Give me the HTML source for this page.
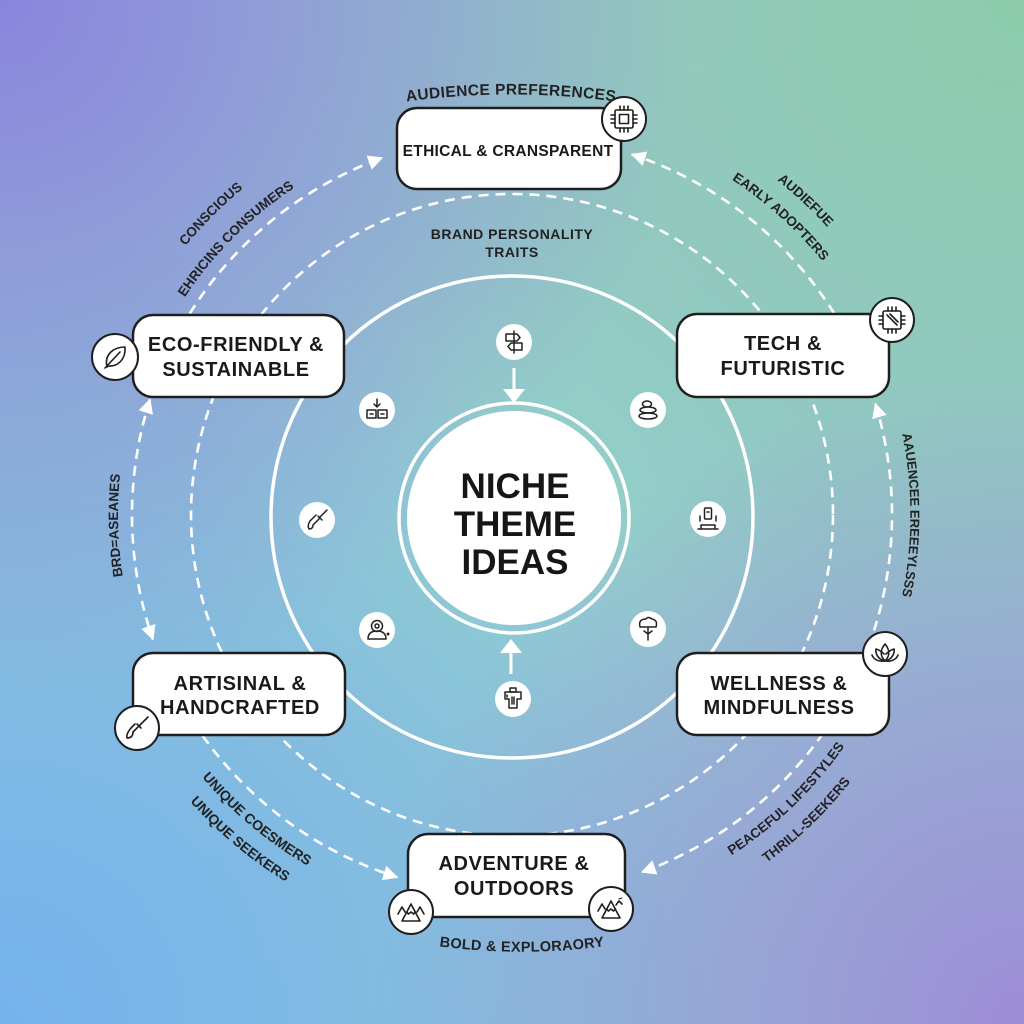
<!DOCTYPE html>
<html><head><meta charset="utf-8"><style>
html,body{margin:0;padding:0;}
body{width:1024px;height:1024px;overflow:hidden;position:relative;
background:
 radial-gradient(circle at 0% 0%, rgba(138,132,222,1) 0%, rgba(138,132,222,0) 48%),
 radial-gradient(circle at 100% 100%, rgba(158,140,214,1) 0%, rgba(158,140,214,0) 45%),
 radial-gradient(circle at 100% 0%, rgba(140,204,172,1) 0%, rgba(140,204,172,0) 52%),
 radial-gradient(circle at 0% 100%, rgba(118,178,238,1) 0%, rgba(118,178,238,0) 55%),
 radial-gradient(circle at 50% 50%, rgba(148,210,204,1) 0%, rgba(148,210,204,0) 45%),
 linear-gradient(180deg,#98c6cc 0%,#8ec6d4 100%);
font-family:"Liberation Sans",Arial,sans-serif;}
svg{position:absolute;left:0;top:0;}
</style></head><body>
<svg width="1024" height="1024" viewBox="0 0 1024 1024" xmlns="http://www.w3.org/2000/svg">
<defs>
 <marker id="ah" viewBox="0 0 12 12" refX="11" refY="6" markerWidth="15" markerHeight="15" markerUnits="userSpaceOnUse" orient="auto-start-reverse">
  <path d="M0,0 L12,6 L0,12 Z" fill="#fff"/>
 </marker>
 <path id="pAud" d="M260,136 A780,780 0 0 1 762,136"/>
 <path id="pBold" d="M282,905 A640,640 0 0 0 762,905"/>
 <path id="pCons" d="M103.4,405.5 A423,423 0 0 1 402.5,106.4"/>
 <path id="pEhr" d="M132.4,413.3 A393,393 0 0 1 410.3,135.4"/>
 <path id="pAudi" d="M608.1,98.9 A427,427 0 0 1 920.3,390.2"/>
 <path id="pEarly" d="M595.4,122.8 A401,401 0 0 1 893.4,391.1"/>
 <path id="pBrd" d="M176.1,720.9 A394,394 0 0 1 165.7,327"/>
 <path id="pAue" d="M858.1,317.5 A399,399 0 0 1 858.1,712.5"/>
 <path id="pUc" d="M130.5,653.9 A406,406 0 0 0 441.5,914.8"/>
 <path id="pUs" d="M107,662.4 A431,431 0 0 0 437.2,939.4"/>
 <path id="pPe" d="M610,908 A405,405 0 0 0 901.3,626.6"/>
 <path id="pTh" d="M616.3,933.2 A431,431 0 0 0 926.3,633.8"/>
</defs>

<!-- middle dashed circle -->
<circle cx="512" cy="515" r="321" fill="none" stroke="#fff" stroke-width="2.6" stroke-dasharray="10 7"/>
<!-- solid ring -->
<circle cx="512" cy="517" r="241" fill="none" stroke="#fff" stroke-width="3.5"/>

<!-- outer dashed arcs -->
<g fill="none" stroke="#fff" stroke-width="2.6" stroke-dasharray="10 7">
 <path d="M189.7,313.6 A380,380 0 0 1 382,157.9" marker-end="url(#ah)"/>
 <path d="M834.3,313.6 A380,380 0 0 0 631.9,154.4" marker-end="url(#ah)"/>
 <path d="M874,630.5 A380,380 0 0 0 875.4,403.9" marker-end="url(#ah)"/>
 <path d="M150,399.5 A380,380 0 0 0 152.9,639.3" marker-start="url(#ah)" marker-end="url(#ah)"/>
 <path d="M202.6,735.7 A380,380 0 0 0 397.1,877.2" marker-end="url(#ah)"/>
 <path d="M823.3,733 A380,380 0 0 1 642,872.1" marker-end="url(#ah)"/>
</g>

<!-- center circle -->
<circle cx="514" cy="518" r="115" fill="none" stroke="#fff" stroke-width="3.5"/>
<circle cx="514" cy="518" r="107" fill="#fff"/>
<g font-weight="bold" font-size="35" fill="#161616" text-anchor="middle">
 <text x="515" y="498">NICHE</text>
 <text x="515" y="536">THEME</text>
 <text x="515" y="574">IDEAS</text>
</g>

<!-- inner arrows -->
<g stroke="#fff" stroke-width="3" fill="#fff">
 <line x1="514" y1="368" x2="514" y2="392"/>
 <path d="M503,389 L525,389 L514,403 Z" stroke="none"/>
 <line x1="511" y1="674" x2="511" y2="650"/>
 <path d="M500,653 L522,653 L511,639 Z" stroke="none"/>
</g>

<!-- inner icon circles -->
<g fill="#fff">
 <circle cx="514" cy="342" r="18"/>
 <circle cx="377" cy="410" r="18"/>
 <circle cx="648" cy="410" r="18"/>
 <circle cx="317" cy="520" r="18"/>
 <circle cx="708" cy="519" r="18"/>
 <circle cx="377" cy="630" r="18"/>
 <circle cx="648" cy="629" r="18"/>
 <circle cx="513" cy="699" r="18"/>
</g>
<g fill="none" stroke="#222" stroke-width="1.5" stroke-linejoin="round" stroke-linecap="round">
 <g transform="translate(514,342)">
  <line x1="0" y1="-11" x2="0" y2="11"/>
  <path d="M-8,-8 h11 l3,3.5 l-3,3.5 h-11 z"/>
  <path d="M8,1 h-11 l-3,3.5 l3,3.5 h11 z"/>
 </g>
 <g transform="translate(377,410)">
  <path d="M0,-11 v8 M-3,-6 l3,3 l3,-3"/>
  <rect x="-10" y="0" width="9" height="8"/>
  <rect x="1" y="0" width="9" height="8"/>
  <path d="M-7,4 h3 M4,4 h3"/>
 </g>
 <g transform="translate(648,410)">
  <ellipse cx="0" cy="6" rx="9" ry="3"/>
  <ellipse cx="0" cy="0" rx="8" ry="3"/>
  <ellipse cx="-1" cy="-6" rx="4.5" ry="3"/>
 </g>
 <g transform="translate(317,520)">
  <path d="M10,-10 L2,-2 M1,-4 l4,4 M2,-1 L-4,5 M-1,-5 L-7,1 Q-10,6 -8,9 Q-4,9 -4,5"/>
 </g>
 <g transform="translate(708,519)">
  <rect x="-3.5" y="-11" width="7" height="11" rx="1"/>
  <path d="M-10,10 h20 M-7,10 v-4 h14 v4 M-8,-3 v5 M8,-3 v5 M-1,-7 h2"/>
 </g>
 <g transform="translate(377,630)">
  <circle cx="0" cy="-4" r="5.5"/>
  <circle cx="0" cy="-4" r="2"/>
  <path d="M-9,9 Q-9,1 0,1 Q9,1 9,9 Z"/>
  <circle cx="11" cy="4" r="0.7"/>
 </g>
 <g transform="translate(648,629)">
  <path d="M-8,-2 Q-10,-10 -2,-10 Q0,-13 4,-10 Q10,-9 8,-2 Z"/>
  <path d="M0,-2 V11 M0,5 l-4,-3 M0,5 l4,-3"/>
 </g>
 <g transform="translate(513,699)">
  <rect x="-3" y="-11" width="6" height="4"/>
  <path d="M-8,-7 h16 v7 h-4 v9 h-8 v-9 h-4 z"/>
  <path d="M-1,-2 v7 M1,-2 v7 M-6,-4 v2"/>
 </g>
</g>

<!-- boxes -->
<g fill="#fff" stroke="#1e1e1e" stroke-width="2.5">
 <rect x="397" y="108" width="224" height="81" rx="20"/>
 <rect x="133" y="315" width="211" height="82" rx="20"/>
 <rect x="677" y="314" width="212" height="83" rx="20"/>
 <rect x="133" y="653" width="212" height="82" rx="20"/>
 <rect x="677" y="653" width="212" height="82" rx="20"/>
 <rect x="408" y="834" width="217" height="83" rx="20"/>
</g>
<g font-weight="bold" fill="#1a1a1a" text-anchor="middle">
 <text x="508" y="156" font-size="15.5" letter-spacing="0.3">ETHICAL &amp; CRANSPARENT</text>
 <g font-size="20" letter-spacing="0.6">
 <text x="236" y="351">ECO-FRIENDLY &amp;</text>
 <text x="236" y="376">SUSTAINABLE</text>
 <text x="783" y="350">TECH &amp;</text>
 <text x="783" y="375">FUTURISTIC</text>
 <text x="240" y="690">ARTISINAL &amp;</text>
 <text x="240" y="714">HANDCRAFTED</text>
 <text x="779" y="690">WELLNESS &amp;</text>
 <text x="779" y="714">MINDFULNESS</text>
 <text x="514" y="870">ADVENTURE &amp;</text>
 <text x="514" y="895">OUTDOORS</text>
 </g>
</g>

<!-- box icon circles -->
<g fill="#fff" stroke="#1e1e1e" stroke-width="2">
 <circle cx="624" cy="119" r="22"/>
 <circle cx="115" cy="357" r="23"/>
 <circle cx="892" cy="320" r="22"/>
 <circle cx="137" cy="728" r="22"/>
 <circle cx="885" cy="654" r="22"/>
 <circle cx="411" cy="912" r="22"/>
 <circle cx="611" cy="909" r="22"/>
</g>
<g fill="none" stroke="#1e1e1e" stroke-width="1.6" stroke-linejoin="round" stroke-linecap="round">
 <g transform="translate(624,119)">
  <rect x="-9" y="-9" width="18" height="18" rx="1.5"/>
  <rect x="-4.5" y="-4.5" width="9" height="9"/>
  <path d="M-4,-9 v-4 M0,-9 v-4 M4,-9 v-4 M-4,9 v4 M0,9 v4 M4,9 v4 M-9,-4 h-4 M-9,0 h-4 M-9,4 h-4 M9,-4 h4 M9,0 h4 M9,4 h4"/>
 </g>
 <g transform="translate(892,320)">
  <rect x="-9" y="-9" width="18" height="18" rx="1.5"/>
  <path d="M-5,-5 L5,5 M-2,-6 L6,2"/>
  <path d="M-4,-9 v-4 M0,-9 v-4 M4,-9 v-4 M-4,9 v4 M0,9 v4 M4,9 v4 M-9,-4 h-4 M-9,0 h-4 M-9,4 h-4 M9,-4 h4 M9,0 h4 M9,4 h4"/>
 </g>
 <g transform="translate(115,357)">
  <path d="M-8,10 C-11,-3 -1,-10 10,-10 C11,2 3,10 -7,9 Z"/>
  <path d="M-10,11 L5,-5"/>
 </g>
 <g transform="translate(137,728)">
  <path d="M11,-11 L2,-2 M0,-4 l4,4 M1,-1 L-4,4 M-2,-4 L-6,0 Q-11,6 -10,10 Q-4,10 -4,4"/>
 </g>
 <g transform="translate(885,654)">
  <path d="M0,7 C-5,2 -5,-4 0,-10 C5,-4 5,2 0,7 Z"/>
  <path d="M0,7 C-6,6 -10,0 -9,-5 C-5,-4 -3,-2 -1,0"/>
  <path d="M0,7 C6,6 10,0 9,-5 C5,-4 3,-2 1,0"/>
  <path d="M-1,7 C-8,8 -12,4 -13,1 M1,7 C8,8 12,4 13,1"/>
 </g>
 <g transform="translate(411,912)">
  <path d="M-9,9 L0,-8 L9,9 Z"/>
  <path d="M-4.5,0 l2,2 l2.5,-2 l2.5,2 l2,-2"/>
  <path d="M-13,2 L-9,-5 L-6,0 M13,2 L9,-5 L6,0"/>
 </g>
 <g transform="translate(611,909)">
  <path d="M-9,9 L0,-8 L9,9 Z"/>
  <path d="M-4.5,0 l2,2 l2.5,-2 l2.5,2 l2,-2"/>
  <path d="M-13,2 L-9,-5 L-6,0 M5,-4 l3,-4 l3,3"/>
  <path d="M8,-10 l3,-1" stroke-width="1"/>
 </g>
</g>

<!-- labels -->
<g font-weight="bold" fill="#222">
 <text font-size="15.5" letter-spacing="0.4"><textPath href="#pAud" startOffset="50%" text-anchor="middle">AUDIENCE PREFERENCES</textPath></text>
 <text x="512" y="239" font-size="14" letter-spacing="0.5" text-anchor="middle">BRAND PERSONALITY</text>
 <text x="512" y="257" font-size="14" letter-spacing="0.5" text-anchor="middle">TRAITS</text>
 <text font-size="14.5" letter-spacing="0.3"><textPath href="#pBold" startOffset="50%" text-anchor="middle">BOLD &amp; EXPLORAORY</textPath></text>
 <text font-size="13.5"><textPath href="#pCons" startOffset="50%" text-anchor="middle">CONSCIOUS</textPath></text>
 <text font-size="13.5"><textPath href="#pEhr" startOffset="50%" text-anchor="middle">EHRICINS CONSUMERS</textPath></text>
 <text font-size="13.5"><textPath href="#pAudi" startOffset="50%" text-anchor="middle">AUDIEFUE</textPath></text>
 <text font-size="13.5"><textPath href="#pEarly" startOffset="50%" text-anchor="middle">EARLY ADOPTERS</textPath></text>
 <text font-size="13.5"><textPath href="#pBrd" startOffset="50%" text-anchor="middle">BRD=ASEANES</textPath></text>
 <text font-size="13"><textPath href="#pAue" startOffset="50%" text-anchor="middle">AAUENCEE EREEEYLSSS</textPath></text>
 <text font-size="14"><textPath href="#pUc" startOffset="50%" text-anchor="middle">UNIQUE COESMERS</textPath></text>
 <text font-size="14"><textPath href="#pUs" startOffset="50%" text-anchor="middle">UNIQUE SEEKERS</textPath></text>
 <text font-size="13.5"><textPath href="#pPe" startOffset="50%" text-anchor="middle">PEACEFUL LIFESTYLES</textPath></text>
 <text font-size="13.5"><textPath href="#pTh" startOffset="50%" text-anchor="middle">THRILL-SEEKERS</textPath></text>
</g>
</svg>
</body></html>
